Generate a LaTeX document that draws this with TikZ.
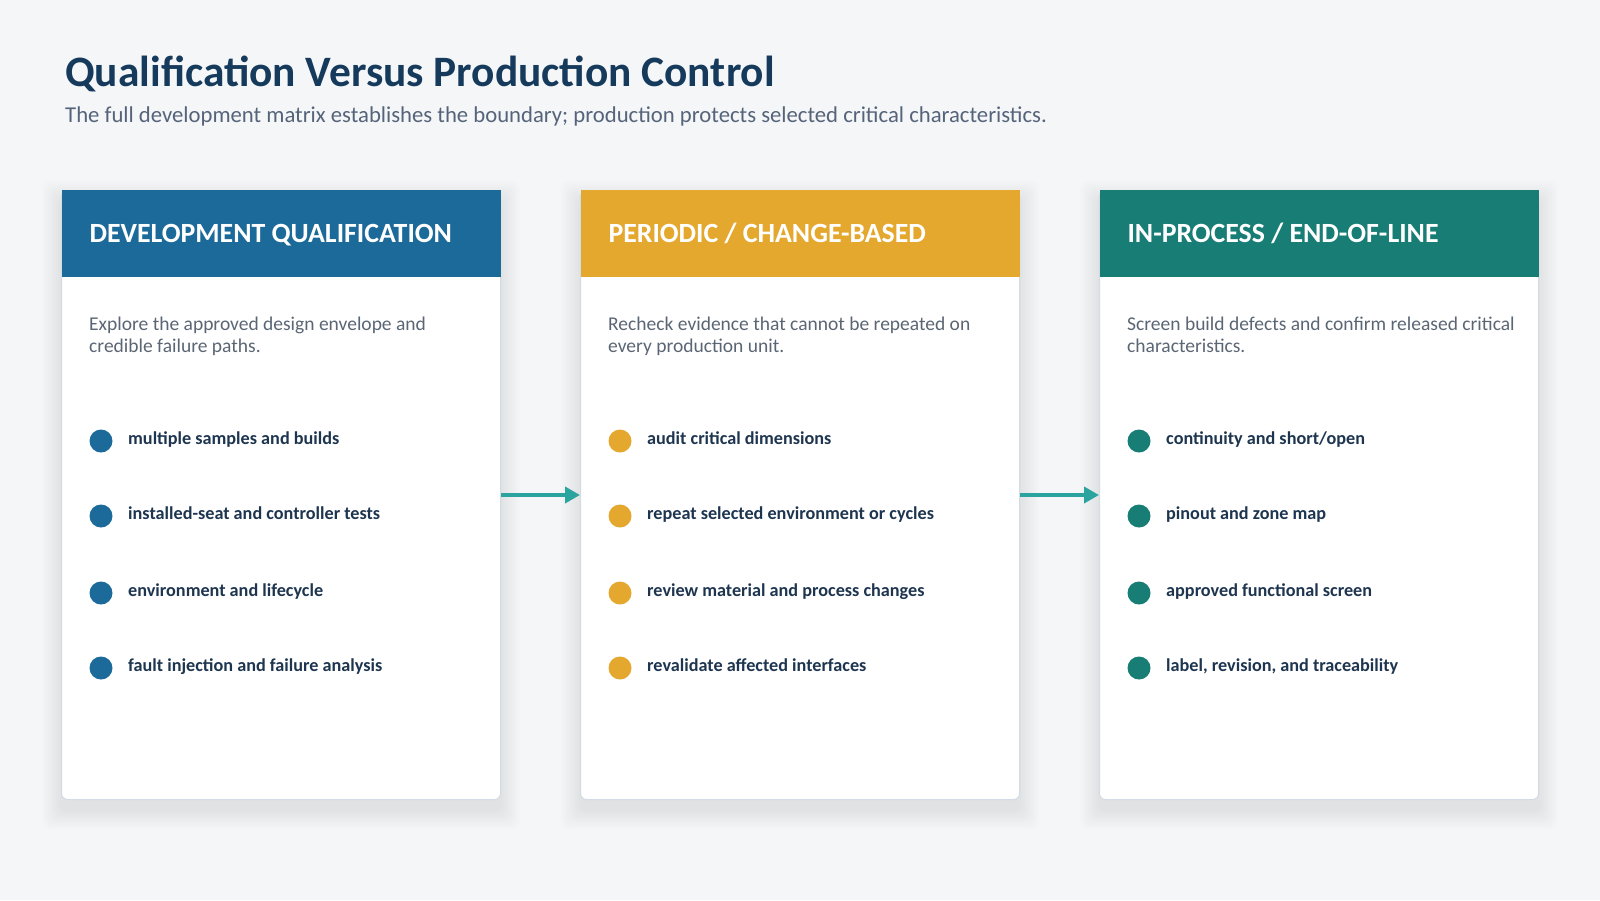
\documentclass[tikz,border=0pt]{standalone}
\usepackage{fontspec}
\setmainfont{Carlito}
\usetikzlibrary{positioning,arrows.meta,backgrounds}

\definecolor{pagebg}{HTML}{F4F6F8}
\definecolor{titleblue}{HTML}{153A5B}
\definecolor{subgray}{HTML}{56647A}
\definecolor{devblue}{HTML}{1B6A99}
\definecolor{periodamber}{HTML}{E5A82E}
\definecolor{lineteal}{HTML}{177D75}
\definecolor{cardline}{HTML}{D3DCE4}
\definecolor{desctext}{HTML}{5B6675}
\definecolor{itemtext}{HTML}{1E3550}
\definecolor{arrowteal}{HTML}{2BA39E}

\tikzstyle{card} = [rectangle, fill=white, draw=cardline, line width=1pt, rounded corners=6pt, minimum width=439pt, minimum height=609pt, inner sep=0pt]
\tikzstyle{head} = [rectangle, minimum width=439pt, minimum height=87pt, inner sep=0pt]
\tikzstyle{headtext} = [text=white, font=\fontsize{27.8}{32}\selectfont\bfseries, inner sep=0pt]
\tikzstyle{desc} = [text=desctext, text width=395pt, align=flush left, font=\fontsize{19.5}{22.5}\selectfont, inner sep=0pt]
\tikzstyle{dot} = [circle, minimum size=23pt, inner sep=0pt]
\tikzstyle{item} = [text=itemtext, font=\fontsize{18.2}{21}\selectfont\bfseries, inner sep=0pt]
\tikzstyle{flow} = [line width=4pt, draw=arrowteal, -{Triangle[length=15pt,width=16pt]}]

\begin{document}
\begin{tikzpicture}[x=1pt,y=-1pt]
\useasboundingbox (0,0) rectangle (1600,900);

\node (title) [anchor=west, text=titleblue, font=\fontsize{43.4}{50}\selectfont\bfseries, inner sep=0pt] at (65,74) {Qualification Versus Production Control};
\node (subtitle) [anchor=west, text=subgray, font=\fontsize{22.7}{27}\selectfont, inner sep=0pt] at (65,116) {The full development matrix establishes the boundary; production protects selected critical characteristics.};

% the three cards
\node (dq) [card, anchor=north west] at (61,190) {};
\node (pc) [card, right=79pt of dq] {};
\node (ip) [card, right=79pt of pc] {};

\node (dqhead) [head, fill=devblue, anchor=north] at (dq.north) {};
\node (pchead) [head, fill=periodamber, anchor=north] at (pc.north) {};
\node (iphead) [head, fill=lineteal, anchor=north] at (ip.north) {};

\node (dqtitle) [headtext, anchor=base west] at ([shift={(28,52)}]dqhead.north west) {DEVELOPMENT QUALIFICATION};
\node (pctitle) [headtext, anchor=base west] at ([shift={(28,52)}]pchead.north west) {PERIODIC / CHANGE-BASED};
\node (iptitle) [headtext, anchor=base west] at ([shift={(28,52)}]iphead.north west) {IN-PROCESS / END-OF-LINE};

\node (dqdesc) [desc, anchor=base west] at ([shift={(28,140)}]dq.north west) {Explore the approved design envelope and credible failure paths.};
\node (pcdesc) [desc, anchor=base west] at ([shift={(28,140)}]pc.north west) {Recheck evidence that cannot be repeated on every production unit.};
\node (ipdesc) [desc, anchor=base west] at ([shift={(28,140)}]ip.north west) {Screen build defects and confirm released critical characteristics.};

% development bullets
\node (dq1) [dot, fill=devblue] at ([shift={(40,251)}]dq.north west) {};
\node (dq2) [dot, fill=devblue] at ([shift={(40,326)}]dq.north west) {};
\node (dq3) [dot, fill=devblue] at ([shift={(40,403)}]dq.north west) {};
\node (dq4) [dot, fill=devblue] at ([shift={(40,478)}]dq.north west) {};
\node (dq1t) [item, anchor=base west] at ([shift={(27,3)}]dq1.center) {multiple samples and builds};
\node (dq2t) [item, anchor=base west] at ([shift={(27,3)}]dq2.center) {installed-seat and controller tests};
\node (dq3t) [item, anchor=base west] at ([shift={(27,3)}]dq3.center) {environment and lifecycle};
\node (dq4t) [item, anchor=base west] at ([shift={(27,3)}]dq4.center) {fault injection and failure analysis};

% periodic bullets
\node (pc1) [dot, fill=periodamber] at ([shift={(40,251)}]pc.north west) {};
\node (pc2) [dot, fill=periodamber] at ([shift={(40,326)}]pc.north west) {};
\node (pc3) [dot, fill=periodamber] at ([shift={(40,403)}]pc.north west) {};
\node (pc4) [dot, fill=periodamber] at ([shift={(40,478)}]pc.north west) {};
\node (pc1t) [item, anchor=base west] at ([shift={(27,3)}]pc1.center) {audit critical dimensions};
\node (pc2t) [item, anchor=base west] at ([shift={(27,3)}]pc2.center) {repeat selected environment or cycles};
\node (pc3t) [item, anchor=base west] at ([shift={(27,3)}]pc3.center) {review material and process changes};
\node (pc4t) [item, anchor=base west] at ([shift={(27,3)}]pc4.center) {revalidate affected interfaces};

% in-process bullets
\node (ip1) [dot, fill=lineteal] at ([shift={(40,251)}]ip.north west) {};
\node (ip2) [dot, fill=lineteal] at ([shift={(40,326)}]ip.north west) {};
\node (ip3) [dot, fill=lineteal] at ([shift={(40,403)}]ip.north west) {};
\node (ip4) [dot, fill=lineteal] at ([shift={(40,478)}]ip.north west) {};
\node (ip1t) [item, anchor=base west] at ([shift={(27,3)}]ip1.center) {continuity and short/open};
\node (ip2t) [item, anchor=base west] at ([shift={(27,3)}]ip2.center) {pinout and zone map};
\node (ip3t) [item, anchor=base west] at ([shift={(27,3)}]ip3.center) {approved functional screen};
\node (ip4t) [item, anchor=base west] at ([shift={(27,3)}]ip4.center) {label, revision, and traceability};

\draw [flow] (dq.east) -- (pc.west);
\draw [flow] (pc.east) -- (ip.west);

\begin{scope}[on background layer]
\fill [pagebg] (0,0) rectangle (1600,900);
\foreach \n in {dq,pc,ip}
  \foreach \s in {1,3,...,19}
    \fill [black, opacity=0.008, rounded corners=8pt] ([shift={(-\s,-\s+10)}]\n.north west) rectangle ([shift={(\s,\s+10)}]\n.south east);
\end{scope}
\end{tikzpicture}
\end{document}
